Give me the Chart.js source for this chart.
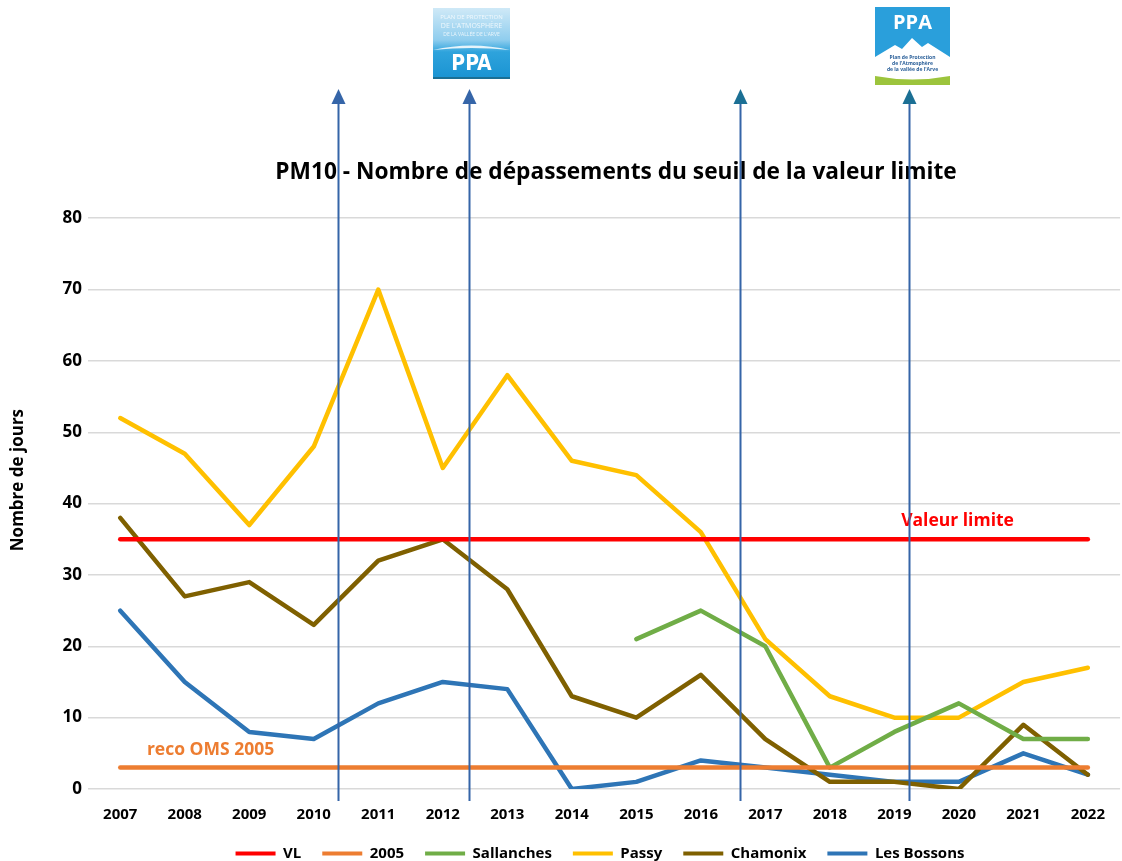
<!DOCTYPE html>
<html>
<head>
<meta charset="utf-8">
<script src="https://cdn.jsdelivr.net/npm/chart.js@4.4.1/dist/chart.umd.min.js"></script>
<style>
  html, body { margin: 0; padding: 0; background: #fff; }
  #wrap { width: 1122px; height: 861px; position: relative; }
</style>
</head>
<body>
<div id="wrap"><canvas id="pm10Chart"></canvas></div>
<script>
// Données
const years = ['2007', '2008', '2009', '2010', '2011', '2012', '2013', '2014', '2015', '2016', '2017', '2018', '2019', '2020', '2021', '2022'];
const vl = [35, 35, 35, 35, 35, 35, 35, 35, 35, 35, 35, 35, 35, 35, 35, 35];
const oms2005 = [3, 3, 3, 3, 3, 3, 3, 3, 3, 3, 3, 3, 3, 3, 3, 3];
const sallanches = [null, null, null, null, null, null, null, null, 21, 25, 20, 3, 8, 12, 7, 7];
const passy = [52, 47, 37, 48, 70, 45, 58, 46, 44, 36, 21, 13, 10, 10, 15, 17];
const chamonix = [38, 27, 29, 23, 32, 35, 28, 13, 10, 16, 7, 1, 1, 0, 9, 2];
const bossons = [25, 15, 8, 7, 12, 15, 14, 0, 1, 4, 3, 2, 1, 1, 5, 2];
const yTicks = [0, 10, 20, 30, 40, 50, 60, 70, 80];

// Flèches verticales (position en index de catégorie) ; logos PPA sur la 2e et la 4e
const arrowPositions = [3.38, 5.41, 9.6, 12.23];
const logoArrows = { 1: 'ppa1', 3: 'ppa2' };

const FONT = '"Open Sans", "DejaVu Sans", sans-serif';

function drawLogoOld(ctx, cx, top) {
    const w = 77, h = 71, x = Math.round(cx - w / 2);
    const g = ctx.createLinearGradient(0, top, 0, top + h);
    g.addColorStop(0, '#cfe9f7');
    g.addColorStop(0.45, '#8fcdee');
    g.addColorStop(0.62, '#2ea3dc');
    g.addColorStop(1, '#1a93d2');
    ctx.fillStyle = g;
    ctx.fillRect(x, top, w, h);
    // horizon blanc
    ctx.fillStyle = 'rgba(255,255,255,0.85)';
    ctx.beginPath();
    ctx.moveTo(x, top + 42);
    ctx.quadraticCurveTo(x + w / 2, top + 33, x + w, top + 42);
    ctx.quadraticCurveTo(x + w / 2, top + 38, x, top + 42);
    ctx.fill();
    ctx.fillStyle = 'rgba(255,255,255,0.8)';
    ctx.textAlign = 'center';
    ctx.textBaseline = 'middle';
    ctx.font = '6px ' + FONT;
    ctx.fillText('PLAN DE PROTECTION', x + w / 2, top + 9);
    ctx.font = '7px ' + FONT;
    ctx.fillText("DE L'ATMOSPHÈRE", x + w / 2, top + 18);
    ctx.font = '5px ' + FONT;
    ctx.fillText("DE LA VALLÉE DE L'ARVE", x + w / 2, top + 27);
    ctx.fillStyle = '#ffffff';
    ctx.font = 'bold 21px "DejaVu Sans Condensed", ' + FONT;
    ctx.fillText('PPA', x + w / 2, top + 57);
    ctx.fillStyle = '#1b6f94';
    ctx.fillRect(x, top + h - 2, w, 2);
}

function drawLogoNew(ctx, cx, top) {
    const w = 75, h = 78, x = Math.round(cx - w / 2);
    ctx.fillStyle = '#2a9fdb';
    ctx.fillRect(x, top, w, h);
    // montagnes blanches
    ctx.fillStyle = '#ffffff';
    ctx.beginPath();
    ctx.moveTo(x, top + 50);
    ctx.lineTo(x + 20, top + 38);
    ctx.lineTo(x + 27, top + 42);
    ctx.lineTo(x + 37, top + 31);
    ctx.lineTo(x + 47, top + 40);
    ctx.lineTo(x + 53, top + 36);
    ctx.lineTo(x + w, top + 50);
    ctx.lineTo(x + w, top + h);
    ctx.lineTo(x, top + h);
    ctx.closePath();
    ctx.fill();
    // bande verte
    ctx.fillStyle = '#9cc43c';
    ctx.beginPath();
    ctx.moveTo(x, top + 69);
    ctx.quadraticCurveTo(x + w / 2, top + 76, x + w, top + 69);
    ctx.lineTo(x + w, top + h);
    ctx.lineTo(x, top + h);
    ctx.closePath();
    ctx.fill();
    ctx.textAlign = 'center';
    ctx.textBaseline = 'middle';
    ctx.fillStyle = '#ffffff';
    ctx.font = 'bold 20px ' + FONT;
    ctx.fillText('PPA', x + w / 2, top + 16);
    ctx.fillStyle = '#2a5f99';
    ctx.font = 'bold 5px ' + FONT;
    ctx.fillText('Plan de Protection', x + w / 2, top + 51);
    ctx.fillText("de l'Atmosphère", x + w / 2, top + 57);
    ctx.fillText("de la vallée de l'Arve", x + w / 2, top + 63);
}

const overlayPlugin = {
    id: 'overlay',
    afterLayout(chart) {
        // décalage horizontal du titre et de la légende comme sur l'original
        if (chart.titleBlock) { chart.titleBlock.left += 51; chart.titleBlock.right += 51; }
        if (chart.legend) { chart.legend.left += 35; chart.legend.right += 35; }
    },
    afterDraw(chart) {
        // titre de l'axe Y, un peu au-dessus du milieu comme dans l'original
        const ctx = chart.ctx;
        const ys = chart.scales.y;
        ctx.save();
        ctx.translate(18, ys.getPixelForValue(43.3));
        ctx.rotate(-Math.PI / 2);
        ctx.font = 'bold 17px ' + FONT;
        ctx.fillStyle = '#000000';
        ctx.textAlign = 'center';
        ctx.textBaseline = 'middle';
        ctx.fillText('Nombre de jours', 0, 0);
        ctx.restore();
    },
    afterDatasetsDraw(chart) {
        const ctx = chart.ctx;
        const xs = chart.scales.x;
        const ys = chart.scales.y;
        const area = chart.chartArea;

        // textes sur les lignes de référence
        ctx.save();
        ctx.font = 'bold 17.5px ' + FONT;
        ctx.textAlign = 'center';
        ctx.textBaseline = 'middle';
        ctx.fillStyle = '#ff0000';
        ctx.fillText('Valeur limite', xs.getPixelForValue(12.98), ys.getPixelForValue(37.5));
        ctx.fillStyle = '#ed7d31';
        ctx.fillText('reco OMS 2005', xs.getPixelForValue(1.4), ys.getPixelForValue(5.5));
        ctx.restore();

        // flèches
        ctx.save();
        ctx.strokeStyle = '#3565a8';
        ctx.fillStyle = '#3565a8';
        ctx.lineWidth = 2;
        const tip = ys.getPixelForValue(98.1);
        const bottom = area.bottom + 12;
        arrowPositions.forEach((pos, i) => {
            const px = Math.round(xs.getPixelForValue(pos)) + 0.5;
            ctx.beginPath();
            ctx.moveTo(px, bottom);
            ctx.lineTo(px, tip + 12);
            ctx.stroke();
            ctx.beginPath();
            ctx.moveTo(px, tip);
            ctx.lineTo(px - 7, tip + 15);
            ctx.lineTo(px + 7, tip + 15);
            ctx.closePath();
            ctx.fill();
            if (logoArrows[i] === 'ppa1') drawLogoOld(ctx, px + 2, 8);
            if (logoArrows[i] === 'ppa2') drawLogoNew(ctx, px + 3, 7);
        });
        ctx.restore();
    }
};

function makeSet(label, data, color) {
    return {
        label: label,
        data: data,
        borderColor: color,
        backgroundColor: color,
        borderWidth: 4.5,
        pointRadius: 0,
        pointHoverRadius: 0,
        tension: 0,
        borderCapStyle: 'round',
        borderJoinStyle: 'round',
        spanGaps: false,
        fill: false
    };
}

const ctx = document.getElementById('pm10Chart').getContext('2d');
new Chart(ctx, {
    type: 'line',
    data: {
        labels: years,
        datasets: [
            makeSet('VL', vl, '#ff0000'),
            makeSet('2005', oms2005, '#ed7d31'),
            makeSet('Sallanches', sallanches, '#70ad47'),
            makeSet('Passy', passy, '#ffc000'),
            makeSet('Chamonix', chamonix, '#7f6000'),
            makeSet('Les Bossons', bossons, '#2e75b6')
        ]
    },
    options: {
        responsive: true,
        maintainAspectRatio: false,
        animation: false,
        devicePixelRatio: 1,
        layout: {
            padding: { top: 159, left: 8, right: 0, bottom: -10 }
        },
        plugins: {
            title: {
                display: true,
                text: 'PM10 - Nombre de dépassements du seuil de la valeur limite',
                color: '#000000',
                font: { family: FONT, size: 22.7, weight: 'bold' },
                padding: { top: 0, bottom: 32 }
            },
            legend: {
                position: 'bottom',
                labels: {
                    color: '#000000',
                    font: { family: FONT, size: 15, weight: 'bold' },
                    boxWidth: 40,
                    boxHeight: 4,
                    padding: 21,
                    generateLabels(chart) {
                        const items = Chart.defaults.plugins.legend.labels.generateLabels(chart);
                        items.forEach(it => { it.lineWidth = 0; it.fillStyle = it.strokeStyle; });
                        return items;
                    }
                }
            },
            tooltip: { enabled: false }
        },
        scales: {
            x: {
                offset: true,
                grid: { display: false, drawTicks: false },
                border: { display: false },
                afterFit(scale) { scale.height = 36; },
                ticks: {
                    color: '#000000',
                    font: { family: FONT, size: 15, weight: 'bold' },
                    padding: 17,
                    maxRotation: 0,
                    autoSkip: false
                }
            },
            y: {
                min: 0,
                max: 80,
                afterBuildTicks(scale) {
                    scale.ticks = yTicks.map(v => ({ value: v }));
                },
                afterFit(scale) { scale.width = 80; },
                grid: { color: '#d9d9d9', lineWidth: 1.5, drawTicks: false },
                border: { display: false },
                ticks: {
                    color: '#000000',
                    font: { family: FONT, size: 17, weight: 'bold' },
                    padding: 6
                }
            }
        }
    },
    plugins: [overlayPlugin]
});
</script>
</body>
</html>
